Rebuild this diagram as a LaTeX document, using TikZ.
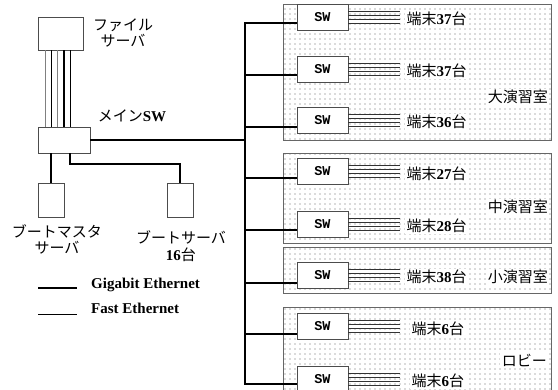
\documentclass[tikz,border=0pt]{standalone}
\usepackage{fontspec}
\setmainfont{Liberation Serif}
\setmonofont{Liberation Mono}
\newfontfamily\cjk{Noto Sans CJK JP}
\usetikzlibrary{patterns.meta}
\newcommand{\jpt}[1]{{\cjk #1}}
\newcommand{\nbf}[1]{\textbf{#1}}
\newcommand{\term}[1]{\jpt{端末}\nbf{#1}\jpt{台}}
\begin{document}
\begin{tikzpicture}[x=1pt,y=-1pt,
  box/.style={draw=black!70, fill=white, line width=0.8pt, inner sep=0pt},
  swbox/.style={draw=black!70, fill=white, line width=0.8pt, minimum width=51pt, minimum height=26pt, inner sep=0pt, font=\ttfamily\bfseries\fontsize{13.5}{13.5}\selectfont},
  room/.style={draw=black!60, line width=0.9pt, pattern={Dots[distance=5pt,radius=0.65pt]}, pattern color=black!60},
  giga/.style={line width=2pt, black},
  fast/.style={line width=0.8pt, black},
  fastgray/.style={line width=0.9pt, black!50},
  termline/.style={line width=0.7pt, black!80},
  jp/.style={font=\fontsize{15}{16}\selectfont, inner sep=1pt},
  lbl/.style={fill=white, font=\fontsize{15}{16}\selectfont, inner sep=1.5pt},
  legend/.style={font=\bfseries\fontsize{15}{16}\selectfont, inner sep=0pt}
]
\useasboundingbox[fill=white] (0,0) rectangle (558,389);

% rooms
\path[room] (283,4) rectangle (551,140);
\path[room] (283,153) rectangle (551,243);
\path[room] (283,247) rectangle (551,293);
\path[room] (283,307) rectangle (551,400);

% left side nodes
\node[box, minimum width=45pt, minimum height=33pt] (fs) at (60.5,33.5) {};
\node[box, minimum width=52pt, minimum height=26pt] (msw) at (64,140) {};
\node[box, minimum width=26pt, minimum height=34pt] (bm) at (51,200) {};
\node[box, minimum width=26pt, minimum height=34pt] (bs) at (180,200) {};

\node[jp, align=center] (fsl) at (123,33) {\jpt{ファイル}\\\jpt{サーバ}};
\node[jp] (mswl) at (132,116) {\jpt{メイン}\nbf{SW}};
\node[jp, align=center] (bml) at (57,239) {\jpt{ブートマスタ}\\\jpt{サーバ}};
\node[jp, align=center, font=\fontsize{15}{17}\selectfont] (bsl) at (181,246.5) {\jpt{ブートサーバ}\\\nbf{16}\jpt{台}};

% file server to main SW
\draw[fastgray] (45,0 |- fs.south) -- (45,0 |- msw.north);
\draw[fast] (51,0 |- fs.south) -- (51,0 |- msw.north);
\draw[fastgray] (57.7,0 |- fs.south) -- (57.7,0 |- msw.north);
\draw[giga] (64,0 |- fs.south) -- (64,0 |- msw.north);
\draw[line width=1.4pt] (70.7,0 |- fs.south) -- (70.7,0 |- msw.north);

% main SW to boot servers
\draw[giga] (msw.south -| bm.north) -- (bm.north);
\draw[giga] (70,0 |- msw.south) -- (70,164) -| (bs.north);

% bus
\coordinate (b1) at (245,23);
\coordinate (b2) at (245,75);
\coordinate (b3) at (245,127);
\coordinate (b4) at (245,178);
\coordinate (b5) at (245,230);
\coordinate (b6) at (245,283);
\coordinate (b7) at (245,334);
\coordinate (b8) at (245,384);
\draw[giga] (msw.east) -- (msw.east -| b1);
\draw[giga, line cap=rect] (b1) -- (b8);

% switches
\node[swbox] (s1) at (322.5,17) {SW};
\node[swbox] (s2) at (322.5,69) {SW};
\node[swbox] (s3) at (322.5,120) {SW};
\node[swbox] (s4) at (322.5,171.5) {SW};
\node[swbox] (s5) at (322.5,224) {SW};
\node[swbox] (s6) at (322.5,275) {SW};
\node[swbox] (s7) at (322.5,326.5) {SW};
\node[swbox] (s8) at (322.5,379) {SW};

\foreach \i in {1,...,8}{
  \draw[giga] (b\i) -- (b\i -| s\i.west);
  \foreach \d in {-6,-2,2,6}
    \draw[termline] ([yshift=\d pt]s\i.east) -- ++(52,0);
}

% terminal labels
\node[lbl, anchor=west] (t1) at (405,19) {\term{37}};
\node[lbl, anchor=west] (t2) at (405,71) {\term{37}};
\node[lbl, anchor=west] (t3) at (405,122) {\term{36}};
\node[lbl, anchor=west] (t4) at (405,173.5) {\term{27}};
\node[lbl, anchor=west] (t5) at (405,226) {\term{28}};
\node[lbl, anchor=west] (t6) at (405,277) {\term{38}};
\node[lbl, anchor=west] (t7) at (410,329) {\term{6}};
\node[lbl, anchor=west] (t8) at (410,381) {\term{6}};

% room labels
\node[lbl, anchor=east] (r1) at (549.5,97) {\jpt{大演習室}};
\node[lbl, anchor=east] (r2) at (549.5,207) {\jpt{中演習室}};
\node[lbl, anchor=east] (r3) at (549.5,277) {\jpt{小演習室}};
\node[lbl, anchor=east] (r4) at (548.5,360) {\jpt{ロビー}};

% legend
\coordinate (g1) at (38,288);
\coordinate (g2) at (77,288);
\coordinate (f1) at (38,314);
\coordinate (f2) at (77,314);
\draw[giga] (g1) -- (g2);
\draw[fast] (f1) -- (f2);
\node[legend, anchor=base west] (gl) at (91,288) {Gigabit Ethernet};
\node[legend, anchor=base west] (fl) at (91,313.5) {Fast Ethernet};
\end{tikzpicture}
\end{document}
